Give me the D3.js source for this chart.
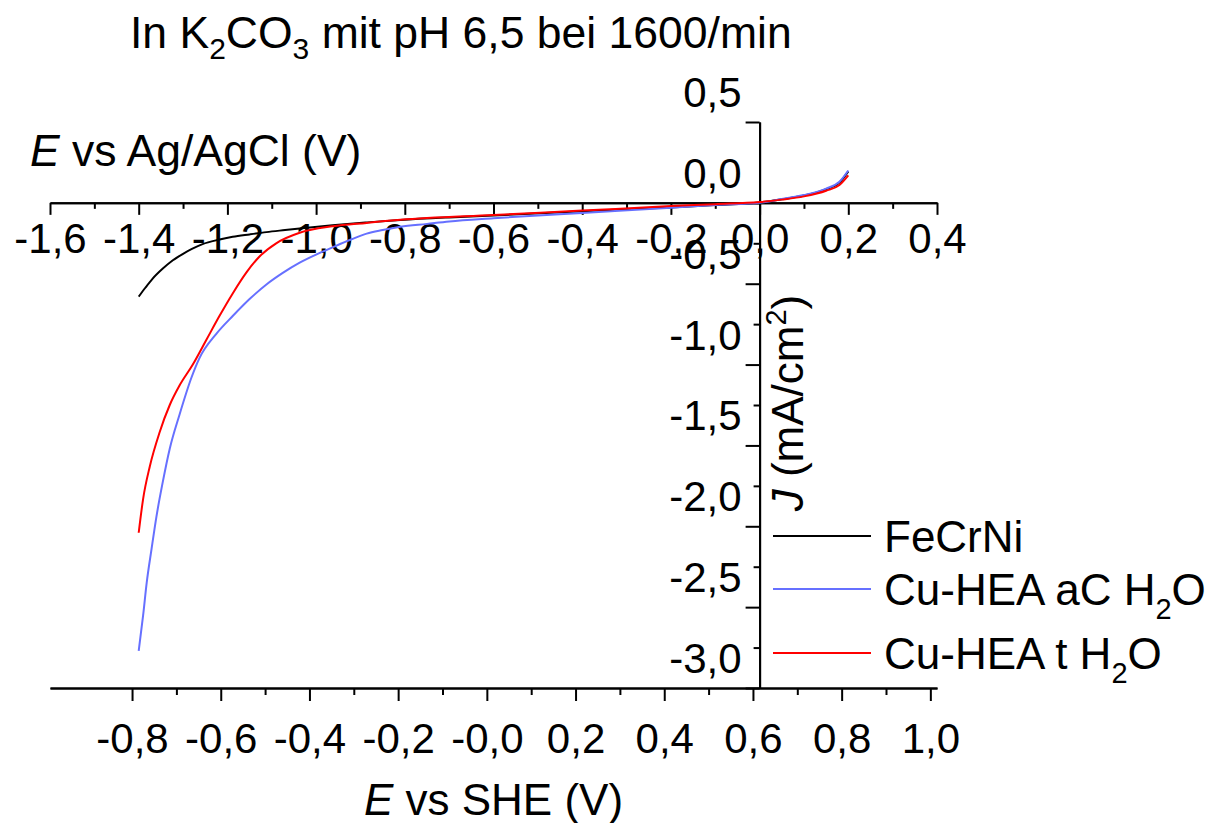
<!DOCTYPE html>
<html>
<head>
<meta charset="utf-8">
<script src="https://cdn.jsdelivr.net/npm/d3@7"></script>
<style>
  body { margin: 0; background: #fff; }
  svg { display: block; }
  text { font-family: "Liberation Sans", Arial, sans-serif; fill: #000; }
</style>
</head>
<body>
<svg id="chart" width="1216" height="823"></svg>
<script>
// Linear sweep voltammetry in K2CO3, pH 6.5, 1600 rpm
// Potentials vs Ag/AgCl (V), current densities in mA/cm²
const eFeCrNi = [-1.40, -1.385, -1.369, -1.345, -1.323, -1.30, -1.28, -1.256, -1.22, -1.188, -1.15, -1.112, -1.07, -1.037, -0.963, -0.886, -0.81, -0.70, -0.60, -0.40, -0.20, -0.10, 0.00, 0.05, 0.10, 0.15, 0.18, 0.20];
const jFeCrNi = [-0.58, -0.525, -0.47, -0.405, -0.355, -0.315, -0.285, -0.255, -0.228, -0.21, -0.195, -0.181, -0.168, -0.158, -0.138, -0.121, -0.106, -0.09, -0.078, -0.052, -0.028, -0.014, 0.002, 0.022, 0.045, 0.085, 0.125, 0.195];

const eCuHeaAc = [-1.40, -1.39, -1.382, -1.371, -1.36, -1.346, -1.33, -1.308, -1.281, -1.263, -1.225, -1.188, -1.15, -1.112, -1.076, -1.037, -1.00, -0.963, -0.92, -0.886, -0.85, -0.81, -0.75, -0.70, -0.60, -0.40, -0.20, -0.10, 0.00, 0.05, 0.10, 0.15, 0.18, 0.20];
const jCuHeaAc = [-2.77, -2.55, -2.35, -2.14, -1.94, -1.73, -1.52, -1.31, -1.08, -0.96, -0.81, -0.70, -0.595, -0.505, -0.435, -0.37, -0.32, -0.275, -0.225, -0.19, -0.168, -0.148, -0.13, -0.115, -0.095, -0.062, -0.031, -0.013, 0.0, 0.024, 0.048, 0.088, 0.13, 0.20];

const eCuHeaT = [-1.40, -1.39, -1.375, -1.353, -1.33, -1.308, -1.278, -1.247, -1.218, -1.188, -1.157, -1.127, -1.09, -1.037, -0.963, -0.886, -0.81, -0.60, -0.40, -0.20, -0.10, 0.00, 0.05, 0.10, 0.15, 0.18, 0.20];
const jCuHeaT = [-2.04, -1.83, -1.63, -1.42, -1.25, -1.13, -1.0, -0.845, -0.70, -0.56, -0.43, -0.33, -0.25, -0.185, -0.145, -0.124, -0.105, -0.075, -0.048, -0.02, -0.008, 0.005, 0.02, 0.04, 0.075, 0.11, 0.17];

const seriesNames = ["FeCrNi", "Cu-HEA aC H2O", "Cu-HEA t H2O"];
const seriesColors = ["#000000", "#6670ff", "#ff0000"];

// Tick values and their printed labels
const agTickValues = [-1.6, -1.4, -1.2, -1.0, -0.8, -0.6, -0.4, -0.2, 0.0, 0.2, 0.4];
const agTickLabels = ["-1,6", "-1,4", "-1,2", "-1,0", "-0,8", "-0,6", "-0,4", "-0,2", "0,0", "0,2", "0,4"];
const sheTickValues = [-0.8, -0.6, -0.4, -0.2, 0.0, 0.2, 0.4, 0.6, 0.8, 1.0];
const sheTickLabels = ["-0,8", "-0,6", "-0,4", "-0,2", "-0,0", "0,2", "0,4", "0,6", "0,8", "1,0"];
const jTickValues = [0.5, 0.0, -0.5, -1.0, -1.5, -2.0, -2.5, -3.0];
const jTickLabels = ["0,5", "0,0", "-0,5", "-1,0", "-1,5", "-2,0", "-2,5", "-3,0"];

// Ag/AgCl -> SHE conversion at this pH
const sheOffset = 0.615;

const svg = d3.select("#chart");
svg.append("rect").attr("width", 1216).attr("height", 823).attr("fill", "#fff");

const plotLeft = 50, plotRight = 937, plotTop = 122, plotBottom = 688;
const x = d3.scaleLinear().domain([-1.6, 0.4]).range([plotLeft, plotRight]);
const xShe = d3.scaleLinear().domain([-1.6 + sheOffset, 0.4 + sheOffset]).range([plotLeft, plotRight]);
const y = d3.scaleLinear().domain([-3.0, 0.5]).range([plotBottom, plotTop]);

const tickFont = 42;

function styleAxis(g) {
  g.selectAll("path.domain").attr("stroke", "#000").attr("stroke-width", 2);
  g.selectAll(".tick line").attr("stroke", "#000").attr("stroke-width", 2);
  g.selectAll("text").attr("font-size", tickFont).attr("font-family", "Liberation Sans, Arial, sans-serif").attr("fill", "#000");
}

// Ag/AgCl axis, drawn along J = 0
const yZero = y(0);
const agMinor = d3.range(-15, 4, 2).map(v => v / 10);
svg.append("g").attr("transform", `translate(0,${yZero})`)
  .call(d3.axisBottom(x).tickValues(agMinor).tickSize(6).tickSizeOuter(0).tickFormat(""))
  .call(styleAxis);
svg.append("g").attr("transform", `translate(0,${yZero})`)
  .call(d3.axisBottom(x).tickValues(agTickValues).tickSize(12).tickSizeOuter(0).tickPadding(8)
    .tickFormat((d, i) => agTickLabels[i]))
  .call(styleAxis);

// SHE axis along the bottom
const sheMinor = d3.range(-7, 10, 2).map(v => v / 10);
svg.append("g").attr("transform", `translate(0,${plotBottom})`)
  .call(d3.axisBottom(xShe).tickValues(sheMinor).tickSize(7).tickSizeOuter(0).tickFormat(""))
  .call(styleAxis);
svg.append("g").attr("transform", `translate(0,${plotBottom})`)
  .call(d3.axisBottom(xShe).tickValues(sheTickValues).tickSize(13).tickSizeOuter(0).tickPadding(22)
    .tickFormat((d, i) => sheTickLabels[i]))
  .call(styleAxis);

// Current density axis at E = 0 V vs Ag/AgCl
const xZero = x(0);
const jMinor = d3.range(-11, 1, 2).map(v => v / 4);
svg.append("g").attr("transform", `translate(${xZero},0)`)
  .call(d3.axisLeft(y).tickValues(jMinor).tickSize(6).tickSizeOuter(0).tickFormat(""))
  .call(styleAxis);
const jAxis = svg.append("g").attr("transform", `translate(${xZero},0)`)
  .call(d3.axisLeft(y).tickValues(jTickValues).tickSize(14).tickSizeOuter(0).tickPadding(4)
    .tickFormat((d, i) => jTickLabels[i]))
  .call(styleAxis);
jAxis.selectAll(".tick text").attr("y", -29);

// Curves
const series = [
  { name: seriesNames[0], color: seriesColors[0], e: eFeCrNi, j: jFeCrNi },
  { name: seriesNames[1], color: seriesColors[1], e: eCuHeaAc, j: jCuHeaAc },
  { name: seriesNames[2], color: seriesColors[2], e: eCuHeaT, j: jCuHeaT }
];
const line = d3.line().x(d => x(d[0])).y(d => y(d[1])).curve(d3.curveMonotoneX);
svg.append("g").selectAll("path").data(series).join("path")
  .attr("d", s => line(s.e.map((v, i) => [v, s.j[i]])))
  .attr("fill", "none")
  .attr("stroke", s => s.color)
  .attr("stroke-width", 2);

// Titles
const title = svg.append("text").attr("x", 130).attr("y", 48).attr("font-size", 44.5);
title.append("tspan").text("In K");
title.append("tspan").attr("font-size", 30).attr("dy", 11).text("2");
title.append("tspan").attr("dy", -11).text("CO");
title.append("tspan").attr("font-size", 30).attr("dy", 11).text("3");
title.append("tspan").attr("dy", -11).text(" mit pH 6,5 bei 1600/min");

const agTitle = svg.append("text").attr("x", 30).attr("y", 166).attr("font-size", 44.5);
agTitle.append("tspan").attr("font-style", "italic").text("E");
agTitle.append("tspan").text(" vs Ag/AgCl (V)");

const sheTitle = svg.append("text").attr("x", (plotLeft + plotRight) / 2).attr("y", 815)
  .attr("font-size", 44).attr("text-anchor", "middle");
sheTitle.append("tspan").attr("font-style", "italic").text("E");
sheTitle.append("tspan").text(" vs SHE (V)");

const jTitle = svg.append("text")
  .attr("transform", `translate(803,403) rotate(-90)`)
  .attr("font-size", 44).attr("text-anchor", "middle");
jTitle.append("tspan").attr("font-style", "italic").text("J");
jTitle.append("tspan").text(" (mA/cm");
jTitle.append("tspan").attr("font-size", 29).attr("dy", -17).text("2");
jTitle.append("tspan").attr("dy", 17).text(")");

// Legend
const legendRows = [536, 589, 653];
const legend = svg.append("g");
series.forEach((s, i) => {
  const ly = legendRows[i];
  legend.append("line").attr("x1", 773).attr("x2", 871).attr("y1", ly).attr("y2", ly)
    .attr("stroke", s.color).attr("stroke-width", 2);
  const t = legend.append("text").attr("x", 884).attr("y", ly + 16).attr("font-size", 44);
  const m = s.name.match(/^(.*H)2(O)$/);
  if (m) {
    t.append("tspan").text(m[1]);
    t.append("tspan").attr("font-size", 29).attr("dy", 14).text("2");
    t.append("tspan").attr("dy", -14).text(m[2]);
  } else {
    t.text(s.name);
  }
});
</script>
</body>
</html>
